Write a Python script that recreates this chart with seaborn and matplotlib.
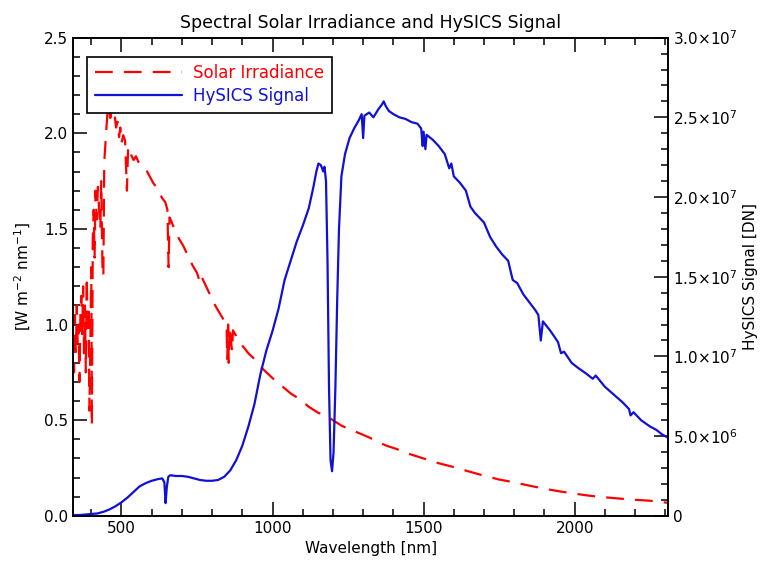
import matplotlib
matplotlib.use('Agg')
import matplotlib.pyplot as plt
from matplotlib.ticker import MultipleLocator
import seaborn as sns

sns.set_style('ticks')
plt.rcParams['font.family'] = ['DejaVu Sans']
plt.rcParams['text.color'] = 'black'
plt.rcParams['axes.labelcolor'] = 'black'
plt.rcParams['xtick.color'] = 'black'
plt.rcParams['ytick.color'] = 'black'
plt.rcParams['axes.edgecolor'] = 'black'

# Solar irradiance (W m-2 nm-1)
solar_wl = [340, 343, 346, 349, 352, 355, 358, 361, 364, 367, 370, 373, 376, 379,
            382, 385, 388, 391, 394, 397, 400, 402, 405, 408, 411, 414, 418, 422,
            426, 430, 433, 437, 440, 443, 447, 451, 455, 459, 463, 467, 472, 477,
            482, 487, 492, 496, 500, 506, 512, 518, 522, 528, 534, 540, 548, 556,
            565, 575, 585, 595, 605, 615, 625, 635, 645, 652, 656, 659, 665, 675,
            690, 705, 720, 735, 750, 760, 765, 780, 795, 810, 825, 840, 848, 850,
            853, 855, 858, 866, 869, 880, 900, 920, 940, 960, 980, 1000, 1030,
            1060, 1090, 1120, 1150, 1180, 1200, 1230, 1260, 1290, 1320, 1350,
            1380, 1410, 1440, 1470, 1500, 1550, 1600, 1650, 1700, 1750, 1800,
            1850, 1900, 1950, 2000, 2050, 2100, 2150, 2200, 2250, 2310]
solar_irr = [0.95, 0.75, 1.05, 0.85, 1.10, 0.90, 1.00, 0.70, 1.05, 1.15, 0.95, 1.20,
             0.85, 1.10, 0.75, 1.25, 0.95, 1.10, 0.55, 0.90, 1.30, 0.47, 1.45, 1.60,
             1.35, 1.70, 1.55, 1.72, 1.60, 1.50, 1.75, 1.30, 1.25, 1.85, 1.95, 2.05,
             2.13, 2.15, 2.08, 2.12, 2.09, 2.10, 2.03, 2.06, 1.98, 2.03, 1.95, 1.99,
             1.96, 1.70, 1.93, 1.90, 1.88, 1.86, 1.88, 1.85, 1.84, 1.82, 1.80, 1.77,
             1.74, 1.72, 1.69, 1.66, 1.64, 1.60, 1.30, 1.56, 1.54, 1.50, 1.45, 1.41,
             1.36, 1.31, 1.27, 1.22, 1.25, 1.20, 1.15, 1.10, 1.06, 1.02, 1.00, 0.82,
             1.00, 0.80, 0.99, 0.86, 0.97, 0.94, 0.89, 0.85, 0.82, 0.78, 0.75, 0.72,
             0.68, 0.64, 0.61, 0.57, 0.54, 0.52, 0.50, 0.47, 0.45, 0.43, 0.41, 0.385,
             0.365, 0.35, 0.33, 0.315, 0.30, 0.275, 0.255, 0.232, 0.21, 0.19, 0.175,
             0.158, 0.142, 0.128, 0.116, 0.105, 0.097, 0.09, 0.084, 0.079, 0.068]

# HySICS signal (DN)
signal_wl = [340, 360, 380, 400, 420, 440, 460, 480, 500, 520, 540, 560, 580, 600,
             620, 635, 642, 646, 650, 655, 662, 680, 700, 720, 740, 760, 780, 800,
             820, 840, 860, 880, 900, 920, 940, 960, 980, 1000, 1020, 1040, 1060,
             1080, 1100, 1120, 1135, 1145, 1152, 1160, 1168, 1172, 1177, 1182, 1187,
             1192, 1197, 1202, 1208, 1214, 1220, 1228, 1240, 1255, 1270, 1285, 1295,
             1300, 1304, 1320, 1334, 1350, 1362, 1368, 1375, 1385, 1400, 1420, 1440,
             1460, 1480, 1492, 1497, 1500, 1506, 1510, 1530, 1550, 1570, 1585, 1592,
             1600, 1620, 1640, 1655, 1670, 1700, 1720, 1740, 1760, 1780, 1795, 1810,
             1830, 1850, 1870, 1880, 1888, 1895, 1920, 1945, 1955, 1965, 1990, 2010,
             2040, 2060, 2070, 2100, 2130, 2160, 2180, 2185, 2195, 2220, 2250, 2270,
             2290, 2310]
signal_dn = [0.05e6, 0.05e6, 0.08e6, 0.12e6, 0.15e6, 0.25e6, 0.4e6, 0.6e6, 0.85e6,
             1.15e6, 1.5e6, 1.85e6, 2.05e6, 2.2e6, 2.3e6, 2.35e6, 2.1e6, 0.8e6,
             1.8e6, 2.45e6, 2.55e6, 2.5e6, 2.5e6, 2.45e6, 2.35e6, 2.25e6, 2.2e6,
             2.2e6, 2.25e6, 2.45e6, 2.85e6, 3.5e6, 4.4e6, 5.6e6, 7.0e6, 8.9e6,
             10.4e6, 11.6e6, 13.0e6, 14.8e6, 16.0e6, 17.2e6, 18.2e6, 19.3e6, 20.6e6,
             21.6e6, 22.1e6, 22.0e6, 21.6e6, 21.9e6, 21.0e6, 16.0e6, 8.0e6, 3.5e6,
             2.8e6, 4.0e6, 8.0e6, 13.5e6, 18.0e6, 21.3e6, 22.7e6, 23.7e6, 24.3e6,
             24.8e6, 25.2e6, 23.7e6, 25.1e6, 25.3e6, 25.0e6, 25.5e6, 25.8e6, 26.0e6,
             25.7e6, 25.4e6, 25.2e6, 25.0e6, 24.9e6, 24.7e6, 24.6e6, 24.3e6, 23.2e6,
             24.1e6, 23.0e6, 23.9e6, 23.6e6, 23.2e6, 22.7e6, 21.8e6, 22.1e6, 21.3e6,
             20.9e6, 20.4e6, 19.4e6, 19.0e6, 18.4e6, 17.5e6, 16.9e6, 16.4e6, 16.0e6,
             14.8e6, 14.6e6, 13.9e6, 13.4e6, 12.9e6, 12.6e6, 11.0e6, 12.2e6, 11.6e6,
             10.9e6, 10.2e6, 10.3e6, 9.6e6, 9.3e6, 8.9e6, 8.6e6, 8.8e6, 8.1e6, 7.6e6,
             7.1e6, 6.7e6, 6.3e6, 6.5e6, 6.0e6, 5.6e6, 5.4e6, 5.1e6, 4.9e6]

right_ticks = [0, 5e6, 10e6, 15e6, 20e6, 25e6, 30e6]
right_tick_labels = ['0', r'$5.0{\times}10^{6}$', r'$1.0{\times}10^{7}$',
                     r'$1.5{\times}10^{7}$', r'$2.0{\times}10^{7}$',
                     r'$2.5{\times}10^{7}$', r'$3.0{\times}10^{7}$']

red = '#ff0000'
blue = '#1010d8'

fig = plt.figure(figsize=(7.62, 5.70), dpi=100)
ax = fig.add_axes([0.096, 0.095, 0.781, 0.839])
ax2 = ax.twinx()

sns.lineplot(x=solar_wl, y=solar_irr, ax=ax, color=red, lw=1.6, sort=False,
             estimator=None, label='Solar Irradiance', legend=False)
ax.lines[0].set_dashes((8, 5))
sns.lineplot(x=signal_wl, y=signal_dn, ax=ax2, color=blue, lw=1.6, sort=False,
             estimator=None, label='HySICS Signal', legend=False)

ax.set_xlim(340, 2310)
ax.set_ylim(0, 2.5)
ax2.set_ylim(0, 3e7)

ax.xaxis.set_major_locator(MultipleLocator(500))
ax.xaxis.set_minor_locator(MultipleLocator(100))
ax.yaxis.set_major_locator(MultipleLocator(0.5))
ax.yaxis.set_minor_locator(MultipleLocator(0.1))
ax.yaxis.set_major_formatter(matplotlib.ticker.FormatStrFormatter('%.1f'))
ax2.set_yticks(right_ticks)
ax2.set_yticklabels(right_tick_labels)
ax2.yaxis.set_minor_locator(MultipleLocator(1e6))

ax.tick_params(which='both', direction='in', top=True, right=False, labelsize=11,
               width=1.1)
ax.tick_params(which='major', length=10)
ax.tick_params(which='minor', length=5)
ax2.tick_params(which='both', direction='in', right=True, left=False, labelsize=11,
                width=1.1)
ax2.tick_params(which='major', length=10)
ax2.tick_params(which='minor', length=5)
for a in (ax, ax2):
    for s in a.spines.values():
        s.set_linewidth(1.2)
        s.set_visible(True)

ax.set_xlabel('Wavelength [nm]', fontsize=11, labelpad=4)
ax.set_ylabel(r'[W m$^{-2}$ nm$^{-1}$]', fontsize=11, labelpad=8)
ax2.set_ylabel('HySICS Signal [DN]', fontsize=11, labelpad=4)
ax.set_title('Spectral Solar Irradiance and HySICS Signal', fontsize=12.5, pad=7)

handles = ax.get_lines()[:1] + ax2.get_lines()[:1]
leg = ax2.legend(handles, ['Solar Irradiance', 'HySICS Signal'], loc='upper left',
                 bbox_to_anchor=(0.024, 0.96), borderaxespad=0, fontsize=12,
                 handlelength=5.2, handletextpad=0.7, borderpad=0.45,
                 labelspacing=0.3, fancybox=False, framealpha=1,
                 edgecolor='black', labelcolor=[red, blue])
leg.get_frame().set_linewidth(1.2)

plt.savefig('out.png', dpi=100)
